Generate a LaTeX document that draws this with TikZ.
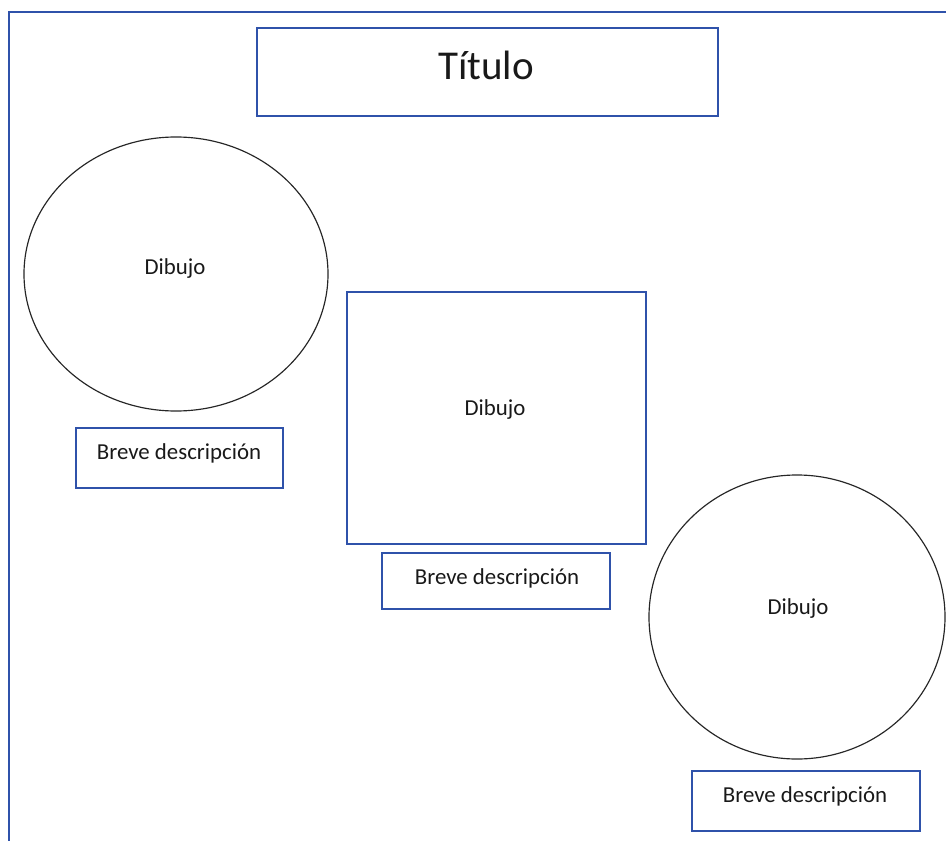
\documentclass[tikz,border=0pt]{standalone}
\usepackage{fontspec}
\setmainfont{Carlito}
\usepackage{xcolor}
\usetikzlibrary{shapes.geometric, positioning, calc}
\definecolor{frameblue}{RGB}{47,82,170}

\begin{document}
\begin{tikzpicture}[
    x=0.03cm, y=-0.03cm,
    titlebox/.style={rectangle, draw=frameblue, line width=1.3pt, minimum width=13.83cm, minimum height=2.64cm},
    descbox/.style={rectangle, draw=frameblue, line width=1.3pt, minimum width=6.84cm, minimum height=1.8cm},
    sqbox/.style={rectangle, draw=frameblue, line width=1.1pt, minimum width=8.97cm, minimum height=7.56cm},
    ellbox/.style={ellipse, draw=black!85, line width=1pt, inner sep=0pt},
    lbl/.style={inner sep=0pt, font=\fontsize{19.5}{22}\selectfont, text=black!90},
    ttl/.style={inner sep=0pt, font=\fontsize{35}{40}\selectfont, text=black!90},
    frame/.style={draw=frameblue, line width=1.4pt},
]
\useasboundingbox (0,0) rectangle (946,841);

% page frame
\coordinate (fb) at (9,841);
\coordinate (ft) at (9,12);
\coordinate (fr) at (946,12);
\draw[frame] (fb) -- (ft) -- (fr);

% title
\node[titlebox] (title) at (487.5,72) {};
\node[ttl] (titletxt) at (486,65) {Título};

% first drawing
\node[ellbox, minimum width=9.12cm, minimum height=8.22cm] (draw1) at (176,274) {};
\node[lbl] (draw1txt) at (175,269) {Dibujo};
\node[descbox, minimum width=6.21cm] (desc1) at (179.5,458) {};
\node[lbl] (desc1txt) at (179,453) {Breve descripción};

% second drawing
\node[sqbox] (draw2) at (496.5,418) {};
\node[lbl] (draw2txt) at (495,410) {Dibujo};
\node[descbox, minimum height=1.68cm] (desc2) at (496,581) {};
\node[lbl] (desc2txt) at (497,578) {Breve descripción};

% third drawing
\node[ellbox, minimum width=8.88cm, minimum height=8.52cm] (draw3) at (797,617) {};
\node[lbl] (draw3txt) at (798,609) {Dibujo};
\node[descbox] (desc3) at (806,801) {};
\node[lbl] (desc3txt) at (805,796) {Breve descripción};
\end{tikzpicture}
\end{document}
